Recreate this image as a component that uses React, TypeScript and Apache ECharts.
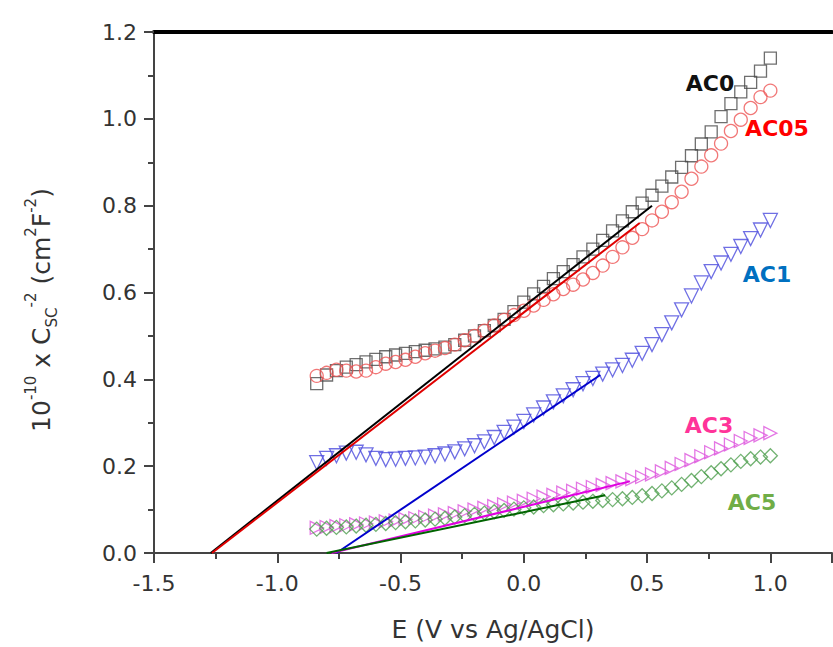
import React, { useEffect, useRef } from "react";
import * as echarts from "echarts";

// Potential (V vs Ag/AgCl) sample points
const potential = [
  -0.84, -0.8, -0.76, -0.72, -0.68, -0.64, -0.6, -0.56, -0.52, -0.48, -0.44, -0.4,
  -0.36, -0.32, -0.28, -0.24, -0.2, -0.16, -0.12, -0.08, -0.04, 0.0, 0.04, 0.08,
  0.12, 0.16, 0.2, 0.24, 0.28, 0.32, 0.36, 0.4, 0.44, 0.48, 0.52, 0.56, 0.6, 0.64,
  0.68, 0.72, 0.76, 0.8, 0.84, 0.88, 0.92, 0.96, 1.0,
];

const ac0 = [
  0.39, 0.41, 0.42, 0.428, 0.434, 0.44, 0.446, 0.452, 0.456, 0.46, 0.464, 0.467,
  0.47, 0.474, 0.48, 0.49, 0.5, 0.512, 0.524, 0.538, 0.556, 0.578, 0.597, 0.614,
  0.632, 0.648, 0.664, 0.682, 0.7, 0.72, 0.742, 0.765, 0.786, 0.806, 0.824, 0.845,
  0.866, 0.888, 0.915, 0.942, 0.97, 1.005, 1.035, 1.062, 1.084, 1.11, 1.14,
];

const ac05 = [
  0.408, 0.415, 0.422, 0.42, 0.418, 0.42, 0.428, 0.436, 0.44, 0.445, 0.452, 0.46,
  0.466, 0.472, 0.48, 0.49, 0.5, 0.512, 0.524, 0.537, 0.548, 0.558, 0.57, 0.583,
  0.596, 0.608, 0.618, 0.63, 0.645, 0.662, 0.682, 0.704, 0.726, 0.746, 0.766, 0.786,
  0.808, 0.832, 0.862, 0.89, 0.916, 0.943, 0.972, 0.998, 1.025, 1.05, 1.065,
];

const ac1 = [
  0.208, 0.218, 0.224, 0.23, 0.232, 0.226, 0.218, 0.215, 0.216, 0.218, 0.219, 0.221,
  0.224, 0.228, 0.233, 0.24, 0.247, 0.256, 0.266, 0.278, 0.29, 0.303, 0.318, 0.334,
  0.348, 0.362, 0.376, 0.39, 0.402, 0.412, 0.422, 0.432, 0.444, 0.46, 0.48, 0.503,
  0.53, 0.56, 0.592, 0.622, 0.648, 0.668, 0.688, 0.706, 0.724, 0.744, 0.766,
];

const ac3 = [
  0.058, 0.06, 0.062, 0.064, 0.066, 0.068, 0.07, 0.073, 0.075, 0.078, 0.08, 0.083,
  0.086, 0.089, 0.092, 0.096, 0.1, 0.104, 0.108, 0.112, 0.116, 0.12, 0.125, 0.13,
  0.134, 0.139, 0.143, 0.148, 0.152, 0.157, 0.161, 0.165, 0.17, 0.175, 0.181, 0.188,
  0.196, 0.205, 0.214, 0.223, 0.232, 0.241, 0.25, 0.258, 0.265, 0.271, 0.276,
];

const ac5 = [
  0.055, 0.057, 0.059, 0.06, 0.062, 0.064, 0.066, 0.068, 0.07, 0.072, 0.074, 0.076,
  0.078, 0.08, 0.083, 0.086, 0.089, 0.092, 0.095, 0.098, 0.101, 0.104, 0.106, 0.109,
  0.111, 0.113, 0.115, 0.117, 0.119, 0.121, 0.123, 0.125, 0.128, 0.132, 0.137, 0.143,
  0.15, 0.158, 0.167, 0.176, 0.185, 0.194, 0.203, 0.211, 0.217, 0.221, 0.224,
];

// Linear fits (endpoints): potential, value
const fitAC0E = [-1.27, 0.52];
const fitAC0C = [0, 0.8];
const fitAC05E = [-1.265, 0.47];
const fitAC05C = [0, 0.76];
const fitAC1E = [-0.76, 0.31];
const fitAC1C = [0, 0.41];
const fitAC3E = [-0.78, 0.43];
const fitAC3C = [0, 0.165];
const fitAC5E = [-0.8, 0.33];
const fitAC5C = [0, 0.133];

const xTicks = { min: -1.5, max: 1.25, interval: 0.5 };
const yTicks = { min: 0, max: 1.2, interval: 0.2 };

const FONT = "DejaVu Sans";
const AXIS = "#444";

function pairs(xs: number[], ys: number[]) {
  return xs.map((x, i) => [x, ys[i]]);
}

function scatter(name: string, ys: number[], symbol: string, color: string, rotate = 0, size = 11) {
  return {
    name,
    type: "scatter",
    data: pairs(potential, ys),
    symbol,
    symbolSize: size,
    symbolRotate: rotate,
    itemStyle: { color: "rgba(255,255,255,0)", borderColor: color, borderWidth: 1.3 },
    z: 2,
  };
}

function fit(name: string, xs: number[], ys: number[], color: string) {
  return {
    name,
    type: "line",
    data: pairs(xs, ys),
    showSymbol: false,
    symbol: "none",
    lineStyle: { color, width: 2 },
    z: 3,
  };
}

export default function App() {
  const ref = useRef<HTMLDivElement>(null);
  useEffect(() => {
    if (!ref.current) return;
    const chart = echarts.init(ref.current, undefined, { renderer: "svg" });
    const label = (text: string, x: number, y: number, color: string) => ({
      type: "text",
      x,
      y,
      style: {
        text,
        fill: color,
        font: `bold 22px "${FONT}"`,
        align: "center",
        verticalAlign: "middle",
      },
    });
    chart.setOption({
      animation: false,
      grid: { left: 154, top: 32, right: 1, bottom: 90 },
      xAxis: [
        {
          type: "value",
          min: xTicks.min,
          max: xTicks.max,
          interval: xTicks.interval,
          name: "E (V vs Ag/AgCl)",
          nameLocation: "middle",
          nameGap: 64,
          nameTextStyle: { fontFamily: FONT, fontSize: 25, color: "#333" },
          axisLine: { onZero: false, lineStyle: { color: AXIS, width: 2 } },
          axisTick: { show: true, length: 10, lineStyle: { color: AXIS, width: 2 } },
          minorTick: { show: true, splitNumber: 2, length: 6, lineStyle: { color: AXIS, width: 2 } },
          splitLine: { show: false },
          minorSplitLine: { show: false },
          axisLabel: {
            margin: 19,
            showMaxLabel: false,
            fontFamily: FONT,
            fontSize: 22,
            color: "#333",
            formatter: (v: number) =>
              Math.abs(v / 0.5 - Math.round(v / 0.5)) < 1e-6 ? v.toFixed(1) : "",
          },
        },
        {
          type: "value",
          position: "top",
          min: xTicks.min,
          max: xTicks.max,
          axisLine: { show: true, onZero: false, lineStyle: { color: "#000", width: 4 } },
          axisTick: { show: false },
          axisLabel: { show: false },
          splitLine: { show: false },
        },
      ],
      yAxis: {
        type: "value",
        min: yTicks.min,
        max: yTicks.max,
        interval: yTicks.interval,
        axisLine: { show: true, onZero: false, lineStyle: { color: AXIS, width: 2 } },
        axisTick: { show: true, length: 10, lineStyle: { color: AXIS, width: 2 } },
        minorTick: { show: true, splitNumber: 2, length: 6, lineStyle: { color: AXIS, width: 2 } },
        splitLine: { show: false },
        minorSplitLine: { show: false },
        axisLabel: {
          margin: 17,
          fontFamily: FONT,
          fontSize: 22,
          color: "#333",
          formatter: (v: number) => v.toFixed(1),
        },
      },
      graphic: [
        {
          type: "text",
          x: 41,
          y: 310,
          rotation: Math.PI / 2,
          style: {
            text: "{n|10}{sup|-10}{n| x C}{sub|SC}{sup|-2}{n| (cm}{sup|2}{n|F}{sup|-2}{n|)}",
            align: "center",
            verticalAlign: "middle",
            fill: "#333",
            rich: {
              n: { fontFamily: FONT, fontSize: 25, lineHeight: 36, fill: "#333", verticalAlign: "middle" },
              sup: { fontFamily: FONT, fontSize: 15, lineHeight: 15, fill: "#333", verticalAlign: "top" },
              sub: { fontFamily: FONT, fontSize: 15, lineHeight: 15, fill: "#333", verticalAlign: "bottom" },
            },
          },
        },
        label("AC0", 710, 83, "#111111"),
        label("AC05", 777, 128, "#ff0000"),
        label("AC1", 767, 274, "#0070c0"),
        label("AC3", 709, 425, "#ff3399"),
        label("AC5", 752, 502, "#70ad47"),
      ],
      series: [
        scatter("AC0", ac0, "rect", "#4a4a4a", 0, 12),
        scatter("AC05", ac05, "circle", "#ee5555", 0, 13),
        scatter("AC1", ac1, "triangle", "#4b4bdd", 180, 14),
        scatter("AC3", ac3, "triangle", "#dd55dd", -90, 13),
        scatter("AC5", ac5, "diamond", "#4f9f4f", 0, 14),
        fit("AC0 fit", fitAC0E, fitAC0C, "#000000"),
        fit("AC05 fit", fitAC05E, fitAC05C, "#e00000"),
        fit("AC1 fit", fitAC1E, fitAC1C, "#0000cc"),
        fit("AC3 fit", fitAC3E, fitAC3C, "#e000e0"),
        fit("AC5 fit", fitAC5E, fitAC5C, "#006400"),
      ],
    });
    return () => chart.dispose();
  }, []);
  return (
    <div
      ref={ref}
      style={{ position: "absolute", left: 0, top: 0, width: 833, height: 647 }}
    />
  );
}
